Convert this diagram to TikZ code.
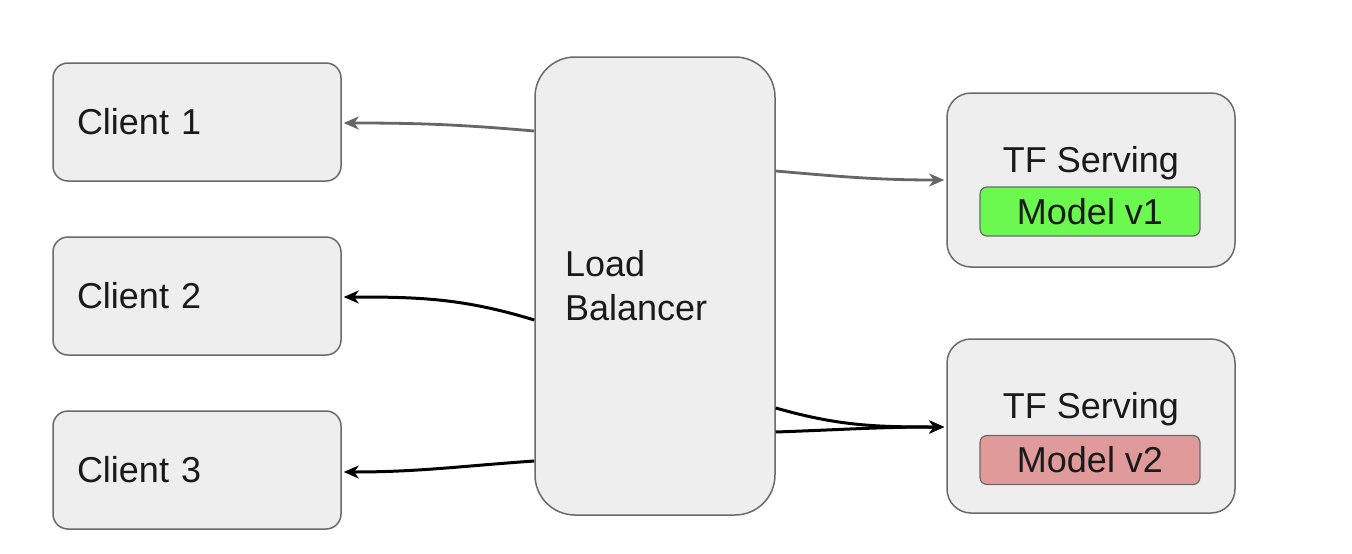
\documentclass[tikz,border=0pt]{standalone}
\usepackage{fontspec}
\setmainfont{Liberation Sans}
\usetikzlibrary{arrows.meta}
\definecolor{boxfill}{HTML}{EEEEEE}
\definecolor{boxline}{HTML}{6A6A6A}
\definecolor{txt}{HTML}{1A1A1A}
\definecolor{greenfill}{HTML}{6BF84F}
\definecolor{redfill}{HTML}{E09A9A}
\definecolor{grayarrow}{HTML}{666666}
\tikzset{
  box/.style={draw=boxline, fill=boxfill, line width=1.5pt, text=txt,
    font=\fontsize{36}{44}\selectfont, inner ysep=0pt},
  client/.style={box, rounded corners=15pt, minimum width=288pt, minimum height=118pt,
    text width=240pt, inner xsep=24pt, align=left},
  lbbox/.style={box, rounded corners=40pt, minimum width=240pt, minimum height=458pt,
    text width=180pt, inner xsep=30pt, align=left},
  tfbox/.style={box, rounded corners=24pt, minimum width=288pt, minimum height=174pt},
  title/.style={text=txt, font=\fontsize{36}{44}\selectfont, inner sep=0pt},
  model/.style={draw=boxline, line width=1.2pt, rounded corners=7pt, text=txt,
    font=\fontsize{36}{44}\selectfont, minimum width=220pt, minimum height=49pt, inner sep=0pt},
  garrow/.style={draw=grayarrow, line width=2.8pt, -{Stealth[length=15pt,width=13pt,inset=4.5pt]}},
  karrow/.style={draw=black, line width=3pt, -{Stealth[length=15pt,width=13pt,inset=4.5pt]}},
}
\begin{document}
\begin{tikzpicture}[x=1pt,y=-1pt]
\useasboundingbox (0,0) rectangle (1352,554);
% clients
\node[client] (c1) at (197,122) {Client 1};
\node[client] (c2) at (197,296) {Client 2};
\node[client] (c3) at (197,470) {Client 3};
% load balancer
\node[lbbox] (lb) at (655,286) {Load\\Balancer};
% TF serving boxes
\node[tfbox] (tf1) at (1091,180) {};
\node[tfbox] (tf2) at (1091,426) {};
\node[title, anchor=base] (t1) at (1091,172) {TF Serving};
\node[title, anchor=base] (t2) at (1091,418) {TF Serving};
\node[model, fill=greenfill] (m1) at (1090,211.5) {Model v1};
\node[model, fill=redfill] (m2) at (1090,460) {Model v2};
% arrows to clients
\draw[garrow] ([yshift=155pt]lb.west) to[out=175,in=0] ([xshift=2pt,yshift=-1pt]c1.east);
\draw[karrow] ([yshift=-34pt]lb.west) to[out=163,in=0] ([xshift=2pt,yshift=-1pt]c2.east);
\draw[karrow] ([yshift=-175pt]lb.west) to[out=184,in=0] ([xshift=2pt,yshift=-2pt]c3.east);
% arrows to serving
\draw[garrow] ([yshift=115pt]lb.east) to[out=-5,in=180] ([xshift=-2pt]tf1.west);
\draw[karrow] ([yshift=-122pt]lb.east) to[out=-16,in=180] ([xshift=-2pt,yshift=-1pt]tf2.west);
\draw[karrow] ([yshift=-146pt]lb.east) to[out=2,in=180] ([xshift=-2pt,yshift=-1pt]tf2.west);
\end{tikzpicture}
\end{document}
